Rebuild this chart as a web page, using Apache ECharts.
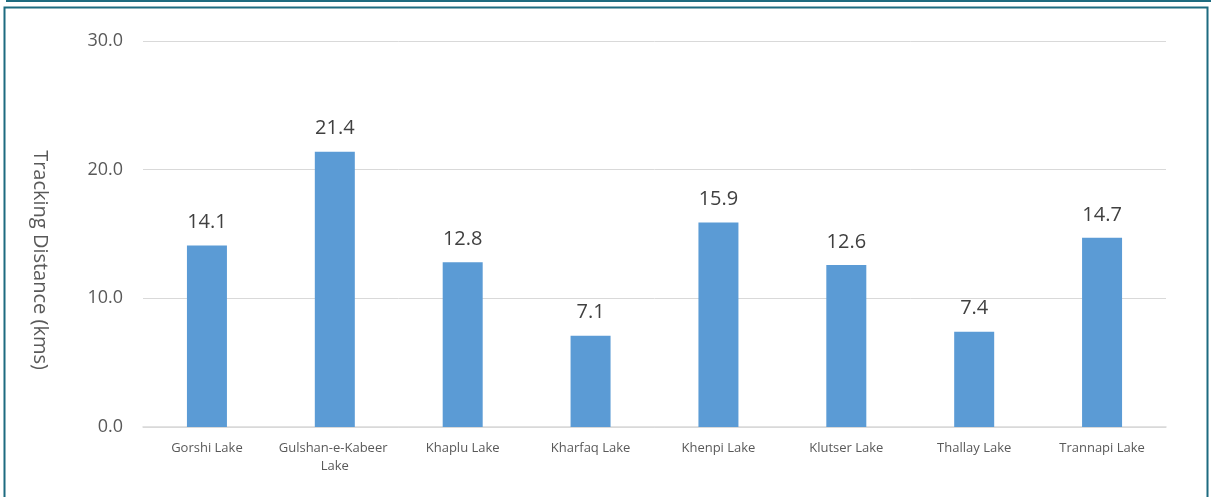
<!DOCTYPE html>
<html>
<head>
<meta charset="utf-8">
<script src="https://cdn.jsdelivr.net/npm/echarts@6/dist/echarts.min.js"></script>
<style>
	html, body { margin: 0; padding: 0; background: #fff; }
	#myChart { width: 1211px; height: 497px; }
</style>
</head>
<body>
<div id="myChart"></div>
<script type="text/javascript">
	// 数据
	var lakes = ["Gorshi Lake", "Gulshan-e-Kabeer Lake", "Khaplu Lake", "Kharfaq Lake", "Khenpi Lake", "Klutser Lake", "Thallay Lake", "Trannapi Lake"];
	var distance = [14.1, 21.4, 12.8, 7.1, 15.9, 12.6, 7.4, 14.7];
	var yTicks = [0, 10, 20, 30];

	var textColor = '#595959';
	var fontName = '"Open Sans", "Noto Sans", sans-serif';

	let myChart = echarts.init(document.getElementById('myChart'));
	myChart.setOption({
		animation: false,
		textStyle: { fontFamily: fontName },
		graphic: [
			// 上方的框边
			{ type: 'rect', shape: { x: 7, y: -20, width: 1203, height: 21 }, style: { fill: 'none', stroke: '#1d6b80', lineWidth: 2 }, z: 10 },
			// 外框
			{ type: 'rect', shape: { x: 4.5, y: 7.5, width: 1203, height: 500 }, style: { fill: 'none', stroke: '#1d6b80', lineWidth: 2 }, z: 10 },
			// y轴标题
			{
				type: 'text', x: 40, y: 260, rotation: -Math.PI / 2,
				style: { text: 'Tracking Distance (kms)', fill: textColor, font: '20px ' + fontName, textAlign: 'center', textVerticalAlign: 'middle' }
			}
		],
		grid: { left: 143, right: 45, top: 41, bottom: 70 },
		xAxis: {
			type: 'category',
			data: lakes,
			axisLine: { lineStyle: { color: '#d9d9d9', width: 1.5 } },
			axisTick: { show: false },
			axisLabel: { interval: 0, color: textColor, fontSize: 13, margin: 12, width: 120, overflow: 'break', lineHeight: 18 }
		},
		yAxis: {
			type: 'value',
			min: yTicks[0],
			max: yTicks[yTicks.length - 1],
			interval: 10,
			axisLine: { show: false },
			axisTick: { show: false },
			splitLine: { lineStyle: { color: '#d9d9d9', width: 1 } },
			axisLabel: { color: textColor, fontSize: 18, margin: 20, formatter: function (v) { return v.toFixed(1); } }
		},
		series: [{
			type: 'bar',
			data: distance,
			barWidth: 40,
			itemStyle: { color: '#5b9bd5' },
			label: {
				show: true, position: 'top', distance: 13,
				color: '#404040', fontSize: 20,
				formatter: function (p) { return p.value.toFixed(1); }
			}
		}]
	});
</script>
</body>
</html>
